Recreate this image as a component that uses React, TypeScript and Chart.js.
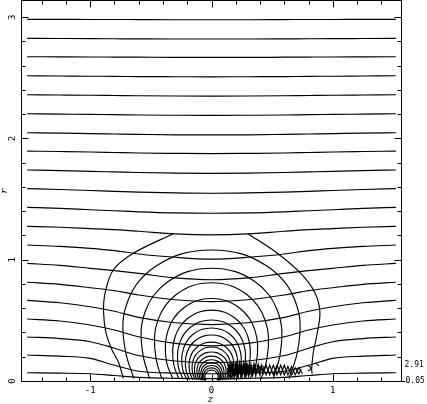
import { useEffect, useRef } from "react";
import { Chart, registerables } from "chart.js";

Chart.register(...registerables);

// axis extents
const Z_MIN = -Math.PI / 2;
const Z_MAX = Math.PI / 2;
const R_MIN = 0;
const R_MAX = Math.PI;

// tick values and labels
const xMajorTicks = [-1, 0, 1];
const xMinorTicks = [-1.4, -1.2, -0.8, -0.6, -0.4, -0.2, 0.2, 0.4, 0.6, 0.8, 1.2, 1.4];
const xTickLabels = ["-1", "0", "1"];
const yMajorTicks = [0, 1, 2, 3];
const yMinorTicks = [0.2, 0.4, 0.6, 0.8, 1.2, 1.4, 1.6, 1.8, 2.2, 2.4, 2.6, 2.8];
const yTickLabels = ["0", "1", "2", "3"];
const levelLabels = ["2.91", "0.05"];

// flux lines: r at |z| positions (symmetric about z = 0)
const fluxZ = [0, 0.3, 0.6, 0.8, 1.0, 1.25, 1.52];
const flux01 = [2.979, 2.979, 2.98, 2.981, 2.981, 2.982, 2.982];
const flux02 = [2.82, 2.82, 2.821, 2.822, 2.823, 2.824, 2.825];
const flux03 = [2.668, 2.668, 2.67, 2.671, 2.672, 2.673, 2.674];
const flux04 = [2.508, 2.509, 2.51, 2.512, 2.513, 2.515, 2.517];
const flux05 = [2.349, 2.35, 2.352, 2.354, 2.356, 2.358, 2.36];
const flux06 = [2.19, 2.191, 2.193, 2.196, 2.198, 2.201, 2.204];
const flux07 = [2.029, 2.03, 2.034, 2.037, 2.04, 2.044, 2.047];
const flux08 = [1.875, 1.877, 1.88, 1.884, 1.888, 1.892, 1.896];
const flux09 = [1.712, 1.714, 1.719, 1.724, 1.729, 1.735, 1.74];
const flux10 = [1.548, 1.551, 1.558, 1.564, 1.571, 1.579, 1.586];
const flux11 = [1.383, 1.386, 1.395, 1.404, 1.412, 1.423, 1.432];
const flux12 = [1.205, 1.213, 1.235, 1.248, 1.257, 1.268, 1.275];
const flux13 = [1.005, 1.02, 1.047, 1.075, 1.094, 1.11, 1.121];
const flux14 = [0.835, 0.85, 0.888, 0.91, 0.929, 0.953, 0.97];
const flux15 = [0.655, 0.67, 0.709, 0.745, 0.769, 0.797, 0.814];
const flux16 = [0.465, 0.48, 0.525, 0.575, 0.612, 0.645, 0.665];
const flux17 = [0.29, 0.31, 0.365, 0.42, 0.462, 0.495, 0.511];
const flux18 = [0.15, 0.165, 0.21, 0.27, 0.324, 0.35, 0.363];
const flux19 = [0.06, 0.065, 0.08, 0.13, 0.187, 0.205, 0.214];
const flux20 = [0.02, 0.022, 0.03, 0.045, 0.06, 0.065, 0.068];
const fluxLines = [
  flux01, flux02, flux03, flux04, flux05, flux06, flux07, flux08, flux09, flux10,
  flux11, flux12, flux13, flux14, flux15, flux16, flux17, flux18, flux19, flux20,
];

// outer contour (two sides, meeting the flux line at the flat top)
const outerLeft = [
  [-0.727, 0.022], [-0.768, 0.157], [-0.82, 0.256], [-0.87, 0.396], [-0.89, 0.569],
  [-0.878, 0.723], [-0.81, 0.915], [-0.645, 1.053], [-0.315, 1.215],
];
const outerRight = [
  [0.3, 1.215], [0.537, 1.058], [0.73, 0.893], [0.853, 0.728], [0.894, 0.563],
  [0.867, 0.371], [0.839, 0.233], [0.826, 0.096], [0.83, 0.06],
];

// nested contours: half profiles [|z|, r] from foot to top (symmetric)
const arc02 = [[0.64, 0.02], [0.708, 0.238], [0.73, 0.486], [0.686, 0.67], [0.599, 0.821], [0.453, 0.95], [0.248, 1.048], [0, 1.08]];
const arc03 = [[0.51, 0.02], [0.563, 0.205], [0.58, 0.419], [0.545, 0.577], [0.476, 0.707], [0.36, 0.818], [0.197, 0.902], [0, 0.93]];
const arc04 = [[0.41, 0.02], [0.456, 0.178], [0.47, 0.365], [0.442, 0.502], [0.385, 0.616], [0.291, 0.713], [0.16, 0.786], [0, 0.81]];
const arc05 = [[0.32, 0.02], [0.369, 0.15], [0.38, 0.306], [0.357, 0.422], [0.312, 0.517], [0.236, 0.598], [0.129, 0.66], [0, 0.68]];
const arc06 = [[0.27, 0.02], [0.31, 0.129], [0.32, 0.263], [0.301, 0.363], [0.262, 0.445], [0.198, 0.515], [0.109, 0.567], [0, 0.585]];
const arc07 = [[0.235, 0.015], [0.272, 0.111], [0.28, 0.226], [0.263, 0.312], [0.23, 0.382], [0.174, 0.443], [0.095, 0.488], [0, 0.503]];
const arc08 = [[0.205, 0.015], [0.238, 0.096], [0.245, 0.197], [0.23, 0.271], [0.201, 0.332], [0.152, 0.385], [0.083, 0.424], [0, 0.437]];
const arc09 = [[0.18, 0.012], [0.209, 0.083], [0.215, 0.171], [0.202, 0.235], [0.176, 0.288], [0.133, 0.334], [0.073, 0.368], [0, 0.379]];
const arc10 = [[0.155, 0.01], [0.179, 0.071], [0.185, 0.144], [0.174, 0.199], [0.152, 0.244], [0.115, 0.282], [0.063, 0.311], [0, 0.321]];
const arc11 = [[0.135, 0.01], [0.155, 0.062], [0.16, 0.126], [0.15, 0.174], [0.131, 0.213], [0.099, 0.246], [0.054, 0.272], [0, 0.28]];
const arc12 = [[0.118, 0.008], [0.136, 0.053], [0.14, 0.108], [0.132, 0.148], [0.115, 0.182], [0.087, 0.21], [0.048, 0.232], [0, 0.239]];
const arc13 = [[0.1, 0.008], [0.116, 0.045], [0.12, 0.092], [0.113, 0.127], [0.098, 0.156], [0.074, 0.18], [0.041, 0.199], [0, 0.205]];
const arc14 = [[0.087, 0.006], [0.1, 0.039], [0.103, 0.079], [0.097, 0.109], [0.084, 0.133], [0.064, 0.154], [0.035, 0.17], [0, 0.175]];
const arc15 = [[0.074, 0.005], [0.085, 0.033], [0.088, 0.068], [0.083, 0.093], [0.072, 0.114], [0.055, 0.132], [0.03, 0.146], [0, 0.15]];
const arc16 = [[0.063, 0.005], [0.073, 0.028], [0.075, 0.058], [0.071, 0.079], [0.062, 0.097], [0.047, 0.113], [0.026, 0.124], [0, 0.128]];
const arc17 = [[0.054, 0.004], [0.062, 0.024], [0.064, 0.049], [0.06, 0.067], [0.052, 0.082], [0.04, 0.095], [0.022, 0.105], [0, 0.108]];
const arc18 = [[0.045, 0.004], [0.052, 0.02], [0.054, 0.041], [0.051, 0.056], [0.044, 0.068], [0.033, 0.079], [0.018, 0.087], [0, 0.09]];
const arcs = [arc02, arc03, arc04, arc05, arc06, arc07, arc08, arc09, arc10, arc11, arc12, arc13, arc14, arc15, arc16, arc17, arc18];

// noisy contour fragments near the axis, right of the centre
const messDense1 = [[0.13, 0.06], [0.145, 0.13], [0.16, 0.05], [0.175, 0.14], [0.19, 0.06], [0.205, 0.15], [0.22, 0.05], [0.235, 0.14], [0.25, 0.07], [0.265, 0.15], [0.28, 0.05], [0.295, 0.13], [0.31, 0.06], [0.325, 0.14], [0.34, 0.05], [0.355, 0.13], [0.37, 0.07], [0.385, 0.14], [0.4, 0.05], [0.415, 0.12]];
const messDense2 = [[0.14, 0.14], [0.155, 0.04], [0.17, 0.12], [0.185, 0.04], [0.2, 0.13], [0.215, 0.05], [0.23, 0.15], [0.245, 0.04], [0.26, 0.12], [0.275, 0.05], [0.29, 0.14], [0.305, 0.04], [0.32, 0.12], [0.335, 0.05], [0.35, 0.14], [0.365, 0.04], [0.38, 0.12], [0.395, 0.06], [0.41, 0.13], [0.425, 0.05]];
const messDense3 = [[0.13, 0.1], [0.16, 0.115], [0.19, 0.09], [0.22, 0.11], [0.25, 0.095], [0.28, 0.115], [0.31, 0.09], [0.34, 0.11], [0.37, 0.095], [0.4, 0.11], [0.43, 0.09]];
const messDense4 = [[0.13, 0.075], [0.16, 0.085], [0.19, 0.07], [0.22, 0.09], [0.25, 0.075], [0.28, 0.085], [0.31, 0.07], [0.34, 0.09], [0.37, 0.075], [0.4, 0.085]];
const messDense5 = [[0.135, 0.11], [0.142, 0.05], [0.15, 0.12], [0.158, 0.06], [0.166, 0.13], [0.174, 0.05], [0.182, 0.12], [0.19, 0.045], [0.198, 0.125], [0.206, 0.06], [0.214, 0.13], [0.222, 0.05], [0.23, 0.12], [0.238, 0.06], [0.246, 0.13], [0.254, 0.05], [0.262, 0.12], [0.27, 0.06], [0.278, 0.13], [0.286, 0.05], [0.294, 0.11], [0.302, 0.06], [0.31, 0.12], [0.318, 0.05]];
const messDense6 = [[0.13, 0.13], [0.17, 0.128], [0.2, 0.135], [0.24, 0.125], [0.28, 0.132], [0.32, 0.122], [0.36, 0.128], [0.4, 0.118]];
const messX1 = [[0.42, 0.13], [0.45, 0.05], [0.48, 0.13], [0.51, 0.05], [0.54, 0.13], [0.57, 0.05], [0.6, 0.13], [0.63, 0.05], [0.66, 0.12], [0.69, 0.05], [0.72, 0.11], [0.75, 0.06]];
const messX2 = [[0.42, 0.05], [0.45, 0.13], [0.48, 0.05], [0.51, 0.13], [0.54, 0.05], [0.57, 0.13], [0.6, 0.05], [0.63, 0.12], [0.66, 0.05], [0.69, 0.11], [0.72, 0.06], [0.74, 0.1]];
const messHook = [[0.79, 0.13], [0.81, 0.12], [0.82, 0.105], [0.81, 0.09], [0.795, 0.085]];
const messTick = [[0.86, 0.15], [0.885, 0.125]];
const messPieces = [messDense1, messDense2, messDense3, messDense4, messDense5, messDense6, messX1, messX2, messHook, messTick];

const toPts = (pairs: number[][]) => pairs.map(([x, y]) => ({ x, y }));

function fluxPoints(vals: number[]) {
  const pts: { x: number; y: number }[] = [];
  for (let i = fluxZ.length - 1; i >= 1; i--) pts.push({ x: -fluxZ[i], y: vals[i] });
  for (let i = 0; i < fluxZ.length; i++) pts.push({ x: fluxZ[i], y: vals[i] });
  return pts;
}

function arcPoints(half: number[][]) {
  const pts: { x: number; y: number }[] = [];
  for (let i = 0; i < half.length; i++) pts.push({ x: -half[i][0], y: half[i][1] });
  for (let i = half.length - 2; i >= 0; i--) pts.push({ x: half[i][0], y: half[i][1] });
  return pts;
}

const framePlugin = {
  id: "pgframe",
  afterDraw(chart: any) {
    const ctx = chart.ctx as CanvasRenderingContext2D;
    const xs = chart.scales.x;
    const ys = chart.scales.y;
    const L = Math.round(xs.getPixelForValue(Z_MIN)) + 0.5;
    const R = Math.round(xs.getPixelForValue(Z_MAX)) - 0.5;
    const T = Math.round(ys.getPixelForValue(R_MAX)) + 0.5;
    const B = Math.round(ys.getPixelForValue(R_MIN)) + 0.5;
    ctx.save();
    ctx.strokeStyle = "#000";
    ctx.lineWidth = 1;
    ctx.beginPath();
    ctx.rect(L, T, R - L, B - T);
    const xt = (v: number, len: number) => {
      const p = Math.round(xs.getPixelForValue(v)) + 0.5;
      ctx.moveTo(p, B);
      ctx.lineTo(p, B - len);
      ctx.moveTo(p, T);
      ctx.lineTo(p, T + len);
    };
    xMajorTicks.forEach((v) => xt(v, 7));
    xMinorTicks.forEach((v) => xt(v, 4));
    const yt = (v: number, len: number) => {
      const p = Math.round(ys.getPixelForValue(v)) + 0.5;
      ctx.moveTo(L, p);
      ctx.lineTo(L + len, p);
      ctx.moveTo(R, p);
      ctx.lineTo(R - len, p);
    };
    yMajorTicks.forEach((v) => yt(v, 7));
    yMinorTicks.forEach((v) => yt(v, 4));
    ctx.moveTo(R, B);
    ctx.lineTo(R + 4, B);
    ctx.stroke();

    ctx.fillStyle = "#000";
    ctx.font = '9px "DejaVu Sans Mono"';
    ctx.textAlign = "center";
    ctx.textBaseline = "middle";
    xMajorTicks.forEach((v, i) => {
      ctx.fillText(xTickLabels[i], xs.getPixelForValue(v), B + 9);
    });
    yMajorTicks.forEach((v, i) => {
      ctx.save();
      ctx.translate(L - 9, ys.getPixelForValue(v));
      ctx.rotate(-Math.PI / 2);
      ctx.fillText(yTickLabels[i], 0, 0);
      ctx.restore();
    });
    ctx.font = 'italic 10px "DejaVu Serif"';
    ctx.fillText("z", xs.getPixelForValue(0) - 1, B + 18);
    ctx.save();
    ctx.translate(L - 17.5, (T + B) / 2);
    ctx.rotate(-Math.PI / 2);
    ctx.fillText("r", 0, 0);
    ctx.restore();
    ctx.font = '8px "DejaVu Sans Mono"';
    ctx.textAlign = "left";
    ctx.fillText(levelLabels[0], R + 3, ys.getPixelForValue(0.13));
    ctx.fillText(levelLabels[1], R + 4, B - 0.5);
    ctx.restore();
  },
};

export default function App() {
  const ref = useRef<HTMLCanvasElement | null>(null);
  useEffect(() => {
    if (!ref.current) return;
    const base = {
      borderColor: "#000",
      borderWidth: 1.15,
      pointRadius: 0,
      fill: false,
    };
    const datasets: any[] = [];
    fluxLines.forEach((vals) =>
      datasets.push({ ...base, data: fluxPoints(vals), cubicInterpolationMode: "monotone" })
    );
    datasets.push({ ...base, data: toPts(outerLeft), tension: 0.35 });
    datasets.push({ ...base, data: toPts(outerRight), tension: 0.35 });
    arcs.forEach((a) => datasets.push({ ...base, data: arcPoints(a), tension: 0.4 }));
    messPieces.forEach((m) => datasets.push({ ...base, data: toPts(m), tension: 0 }));

    const chart = new Chart(ref.current, {
      type: "line",
      data: { datasets },
      options: {
        animation: false,
        responsive: false,
        events: [],
        layout: { padding: { left: 21, right: 25, top: 0, bottom: 23 } },
        scales: {
          x: { type: "linear", min: Z_MIN, max: Z_MAX, display: false },
          y: { type: "linear", min: R_MIN, max: R_MAX, display: false },
        },
        plugins: { legend: { display: false }, tooltip: { enabled: false } },
      },
      plugins: [framePlugin],
    });
    return () => chart.destroy();
  }, []);
  return (
    <div style={{ position: "absolute", left: 0, top: 0, width: 427, height: 404, background: "#fff" }}>
      <canvas ref={ref} width={427} height={404} />
    </div>
  );
}
